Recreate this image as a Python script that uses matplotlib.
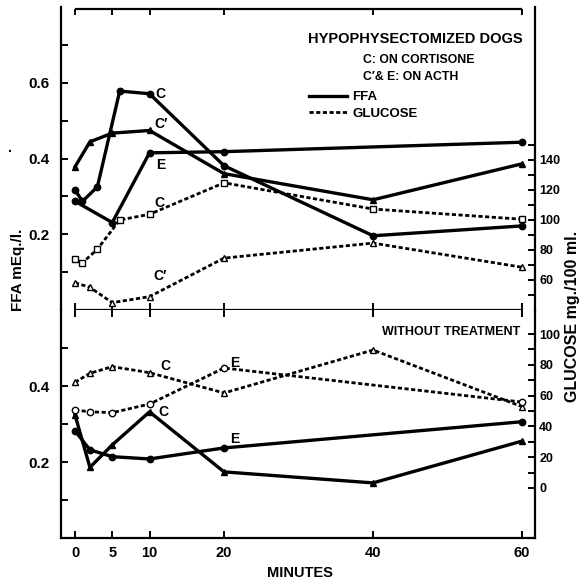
import matplotlib
matplotlib.use('Agg')
import matplotlib.pyplot as plt
from matplotlib.lines import Line2D

plt.rcParams['font.family'] = ['Liberation Sans', 'DejaVu Sans']
plt.rcParams['font.weight'] = 'bold'

# ---- top panel: hypophysectomized dogs on cortisone (C) / ACTH (C', E)
c_min = [0, 1, 3, 6, 10, 20, 40, 60]
c_ffa = [0.317, 0.287, 0.325, 0.578, 0.571, 0.381, 0.196, 0.222]
c_glu = [73.8, 71.5, 80.5, 100.0, 103.8, 124.8, 107.3, 100.5]

cp_min = [0, 2, 5, 10, 20, 40, 60]
cp_ffa = [0.378, 0.444, 0.467, 0.474, 0.360, 0.291, 0.386]
cp_glu = [58.2, 55.1, 44.9, 48.9, 74.6, 84.6, 68.5]

e_min = [0, 5, 10, 20, 60]
e_ffa = [0.287, 0.231, 0.415, 0.418, 0.443]

# ---- bottom panel: without treatment
utc_min = [0, 2, 5, 10, 20, 40, 60]
utc_ffa = [0.324, 0.186, 0.245, 0.332, 0.174, 0.145, 0.255]
utc_glu = [68.6, 74.5, 78.8, 74.9, 61.7, 89.6, 52.8]

ute_min = [0, 2, 5, 10, 20, 60]
ute_ffa = [0.282, 0.232, 0.214, 0.208, 0.237, 0.306]
ute_glu = [50.6, 49.5, 48.9, 54.5, 77.9, 55.8]

minute_ticks = [0, 5, 10, 20, 40, 60]

W, H = 579, 584
fig = plt.figure(figsize=(W / 100, H / 100), dpi=100)
L, R = 61 / W, 535 / W
ax1 = fig.add_axes([L, 1 - 310 / H, R - L, (310 - 7) / H])
ax2 = fig.add_axes([L, 1 - 538 / H, R - L, (538 - 310) / H])
g1 = ax1.twinx()
g2 = ax2.twinx()

dash = (0, (1.5, 0.9))
ffa_kw = dict(color='black', lw=2.4, ls='-', ms=4.6, mfc='black', mec='black')
glu_kw = dict(color='black', lw=2.0, ls=dash, ms=4.6, mfc='white',
              mec='black', mew=1.0, dash_capstyle='butt')

# top
ax1.plot(c_min, c_ffa, marker='o', **ffa_kw)
ax1.plot(cp_min, cp_ffa, marker='^', **ffa_kw)
ax1.plot(e_min, e_ffa, marker='o', **ffa_kw)
g1.plot(c_min, c_glu, marker='s', **glu_kw)
g1.plot(cp_min, cp_glu, marker='^', **glu_kw)

# bottom
ax2.plot(utc_min, utc_ffa, marker='^', **ffa_kw)
ax2.plot(ute_min, ute_ffa, marker='o', **ffa_kw)
g2.plot(utc_min, utc_glu, marker='^', **glu_kw)
g2.plot(ute_min, ute_glu, marker='o', **glu_kw)

for a in (ax1, ax2):
    a.set_xlim(-1.88, 61.74)
ax1.set_ylim(0, 0.8)
ax2.set_ylim(0, 0.6)
g1.set_ylim(40, 242)
g2.set_ylim(-32.5, 115.6)

# spines
ax1.spines['right'].set_visible(False)
ax1.spines['top'].set_visible(False)
ax1.spines['bottom'].set_bounds(0, 60)
ax2.spines['top'].set_visible(False)
ax2.spines['right'].set_visible(False)
for g in (g1, g2):
    for s in ('top', 'bottom', 'left'):
        g.spines[s].set_visible(False)
for a in (ax1, ax2, g1, g2):
    for s in a.spines.values():
        s.set_linewidth(1.6)

# top frame line over the time range, ticks hanging down
ax1.hlines(0.794, minute_ticks[0], minute_ticks[-1], color='black', lw=1.6, clip_on=False)
ax1.vlines(minute_ticks, 0.779, 0.794, color='black', lw=1.4, clip_on=False)

# left ticks
ax1.set_yticks([0.2, 0.4, 0.6], ['0.2', '0.4', '0.6'])
ax1.set_yticks([0.1, 0.3, 0.5, 0.7], minor=True)
ax2.set_yticks([0.2, 0.4], ['0.2', '0.4'])
ax2.set_yticks([0.1, 0.3, 0.5], minor=True)
for a in (ax1, ax2):
    a.tick_params(axis='y', which='both', direction='in', length=5, width=1.4,
                  labelsize=11, pad=8)

# right ticks
g1.set_yticks([60, 80, 100, 120, 140])
g1.set_yticks([50, 70, 90, 110, 130, 150], minor=True)
g2.set_yticks([0, 20, 40, 60, 80, 100])
g2.set_yticks([10, 30, 50, 70, 90], minor=True)
for g in (g1, g2):
    g.tick_params(axis='y', which='both', direction='in', length=5, width=1.4,
                  labelsize=9, pad=3)

# x ticks: separator carries ticks both ways, bottom axis carries labels
ax1.set_xticks(minute_ticks)
ax1.tick_params(axis='x', direction='in', length=5, width=1.4,
                labelbottom=False, top=False, bottom=True)
ax2.set_xticks(minute_ticks)
ax2.tick_params(axis='x', direction='in', length=5, width=1.4, labelsize=10.5,
                pad=6, top=True, bottom=True)

# series labels
lab_kw = dict(fontsize=10, ha='center', va='center')
ax1.text(11.5, 0.571, 'C', **lab_kw)
ax1.text(11.5, 0.492, 'C\u2032', **lab_kw)
ax1.text(11.5, 0.384, 'E', **lab_kw)
ax1.text(11.3, 0.283, 'C', **lab_kw)
ax1.text(11.4, 0.090, 'C\u2032', **lab_kw)
ax2.text(12.1, 0.453, 'C', **lab_kw)
ax2.text(21.5, 0.461, 'E', **lab_kw)
ax2.text(11.8, 0.332, 'C', **lab_kw)
ax2.text(21.5, 0.261, 'E', **lab_kw)

# legend block
fig.text(308 / W, 1 - 39 / H, 'HYPOPHYSECTOMIZED DOGS', fontsize=10.5, va='center')
fig.text(363 / W, 1 - 60 / H, 'C: ON CORTISONE', fontsize=8.8, va='center')
fig.text(363 / W, 1 - 77 / H, 'C\u2032& E: ON ACTH', fontsize=8.8, va='center')
handles = [Line2D([], [], color='black', lw=2.4),
           Line2D([], [], color='black', lw=2.0, ls=dash, dash_capstyle='butt')]
ax1.legend(handles, ['FFA', 'GLUCOSE'], loc='upper left',
           bbox_to_anchor=(309 / W, 1 - 91 / H), bbox_transform=fig.transFigure,
           frameon=False, borderpad=0, borderaxespad=0, handlelength=2.9,
           handletextpad=0.4, labelspacing=0.35, prop=dict(size=9.5, weight='bold'))

fig.text(520 / W, 1 - 332 / H, 'WITHOUT TREATMENT', fontsize=9, ha='right', va='center')

# axis titles
fig.text(18 / W, 1 - 270 / H, 'FFA mEq./l.', fontsize=11, rotation=90,
         ha='center', va='center')
fig.text(573 / W, 1 - 316 / H, 'GLUCOSE mg./100 ml.', fontsize=11.5, rotation=90,
         ha='center', va='center')
fig.text(300 / W, 1 - 573 / H, 'MINUTES', fontsize=10.5, ha='center', va='center')
fig.text(10 / W, 1 - 155 / H, '.', fontsize=10, ha='center', va='bottom')

fig.savefig('out.png', dpi=100)
